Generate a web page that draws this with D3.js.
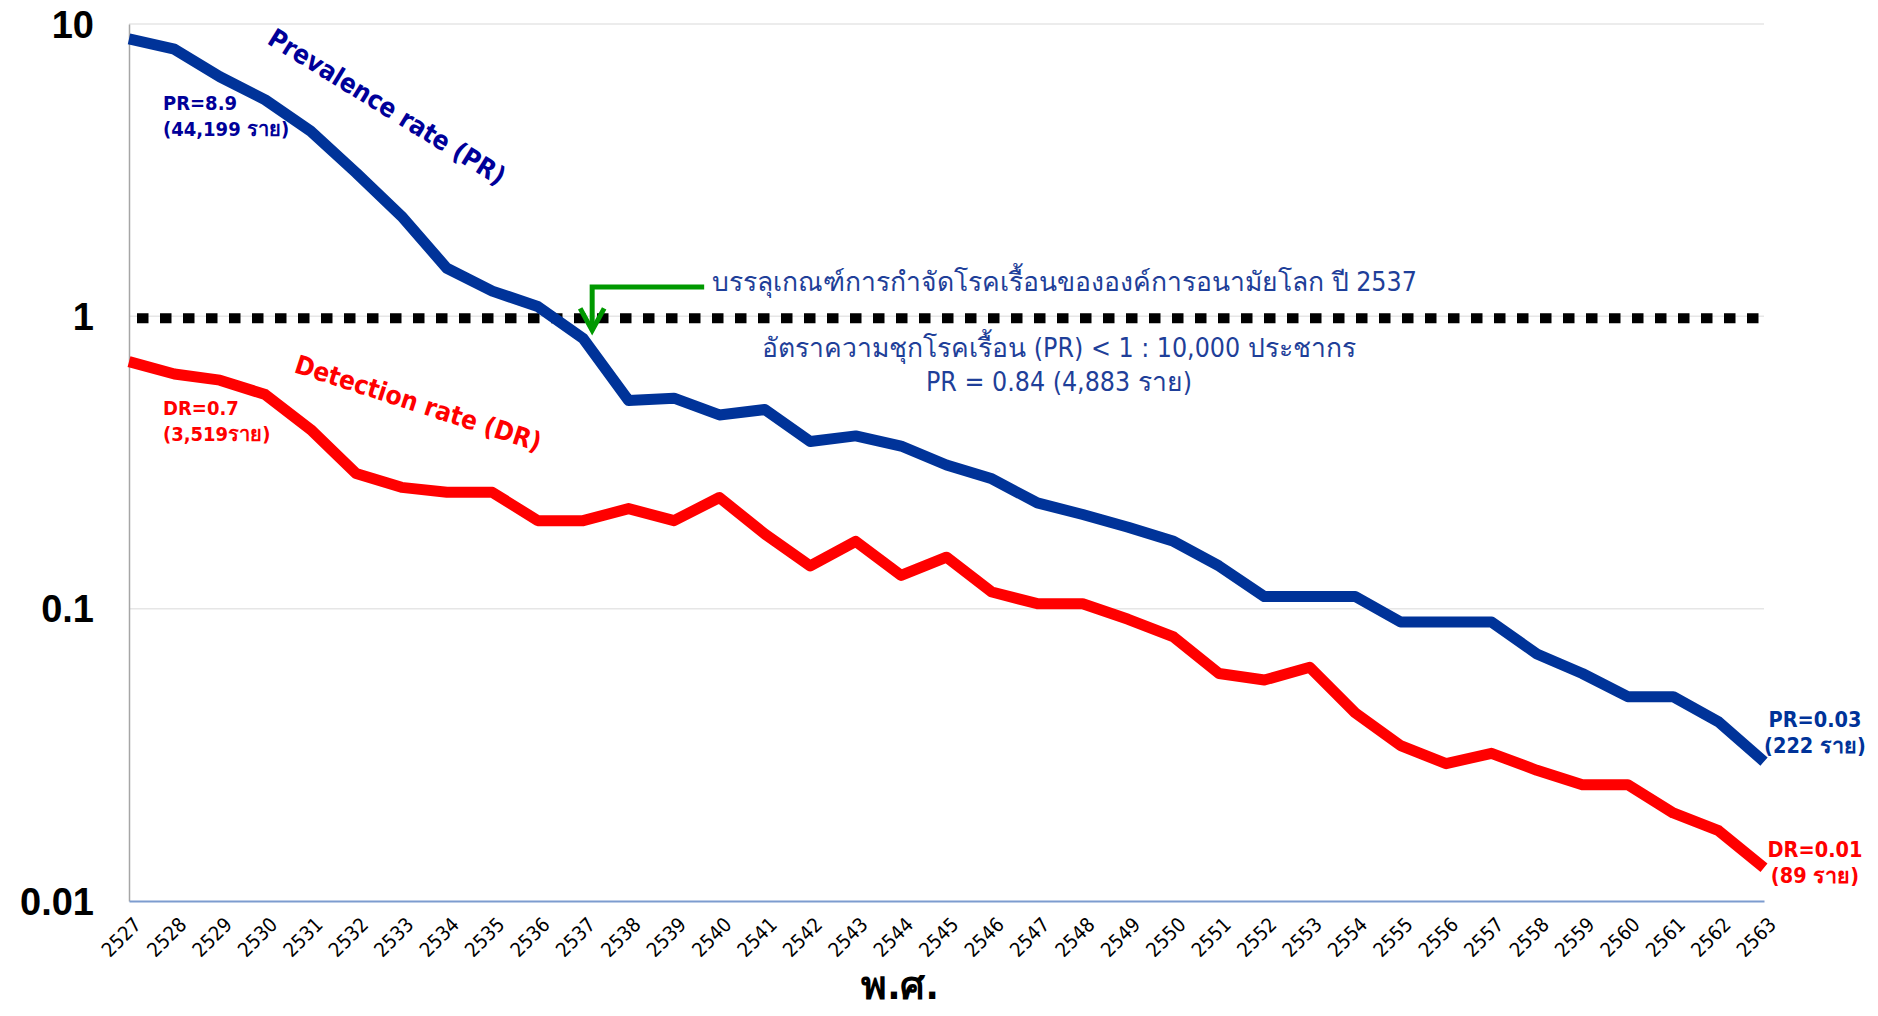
<!DOCTYPE html>
<html>
<head>
<meta charset="utf-8">
<script src="https://cdn.jsdelivr.net/npm/d3@7"></script>
<style>
  body { margin: 0; background: #fff; }
  .tick-label { font-family: "DejaVu Sans Condensed", "DejaVu Sans", sans-serif; font-size: 20px; fill: #000; }
  .y-label { font-family: "Liberation Sans", Arial, sans-serif; font-size: 38px; font-weight: bold; fill: #000; }
</style>
</head>
<body>
<div id="chart"></div>
<script>

// DATA
var years = ["2527", "2528", "2529", "2530", "2531", "2532", "2533", "2534", "2535", "2536",
    "2537", "2538", "2539", "2540", "2541", "2542", "2543", "2544", "2545", "2546",
    "2547", "2548", "2549", "2550", "2551", "2552", "2553", "2554", "2555", "2556",
    "2557", "2558", "2559", "2560", "2561", "2562", "2563"];

var prValues = [8.9, 8.2, 6.6, 5.5, 4.3, 3.1, 2.2, 1.46, 1.22, 1.08,
    0.84, 0.515, 0.525, 0.46, 0.48, 0.373, 0.39, 0.36, 0.31, 0.278,
    0.23, 0.21, 0.19, 0.17, 0.14, 0.11, 0.11, 0.11, 0.09, 0.09,
    0.09, 0.07, 0.06, 0.05, 0.05, 0.041, 0.03];

var drValues = [0.7, 0.635, 0.605, 0.54, 0.41, 0.29, 0.26, 0.25, 0.25, 0.2,
    0.2, 0.22, 0.2, 0.24, 0.18, 0.14, 0.17, 0.13, 0.15, 0.114,
    0.104, 0.104, 0.092, 0.08, 0.06, 0.057, 0.063, 0.044, 0.034, 0.0295,
    0.032, 0.028, 0.025, 0.025, 0.02, 0.0174, 0.013];

var yTicks = [10, 1, 0.1, 0.01];
var yTickLabels = ["10", "1", "0.1", "0.01"];
var target = 1;   // WHO elimination threshold (PR < 1 : 10,000)

/*
SVG CANVAS
*/
var width = 1878;
var height = 1016;
var margin = { top: 24, left: 129, right: 114, bottom: 115 };

var svg = d3.select("#chart")
    .append("svg")
    .attr("width", width)
    .attr("height", height);

var prData = years.map(function(y, i) { return { year: y, value: prValues[i] }; });
var drData = years.map(function(y, i) { return { year: y, value: drValues[i] }; });

/*
SCALES
*/
var xScale = d3.scalePoint()
    .domain(years)
    .range([margin.left, width - margin.right]);

var yScale = d3.scaleLog()
    .domain([0.01, 10])
    .range([height - margin.bottom, margin.top]);

// gridlines
svg.append("g")
    .selectAll("line")
    .data(yTicks.slice(0, 3))
    .enter()
    .append("line")
    .attr("x1", margin.left)
    .attr("x2", width - margin.right)
    .attr("y1", function(d) { return yScale(d); })
    .attr("y2", function(d) { return yScale(d); })
    .attr("stroke", "#e6e6e6")
    .attr("stroke-width", 1.5);

// y axis
var yAxis = svg.append("g")
    .attr("transform", `translate(${margin.left},0)`)
    .call(d3.axisLeft(yScale).tickValues(yTicks).tickSize(0).tickFormat(function(d, i) { return yTickLabels[i]; }));
yAxis.select(".domain").attr("stroke", "#a6a6a6").attr("stroke-width", 1.5);
yAxis.selectAll("text")
    .attr("class", "y-label")
    .attr("x", -35)
    .attr("dy", "0.35em");

// x axis
var xAxis = svg.append("g")
    .attr("transform", `translate(0,${height - margin.bottom})`)
    .call(d3.axisBottom(xScale).tickSize(0));
xAxis.select(".domain").attr("stroke", "#7d9ccf").attr("stroke-width", 2);
xAxis.selectAll("text")
    .attr("class", "tick-label")
    .attr("text-anchor", "end")
    .attr("transform", "translate(3,15) rotate(-45)")
    .attr("x", 0)
    .attr("y", 0)
    .attr("dy", "0.7em");

svg.append("text")
    .attr("x", 900)
    .attr("y", 999)
    .attr("text-anchor", "middle")
    .attr("font-family", "'DejaVu Sans Condensed', 'DejaVu Sans', sans-serif")
    .attr("font-size", 39)
    .attr("font-weight", "bold")
    .text("พ.ศ.");

// dotted threshold line
svg.append("line")
    .attr("x1", margin.left + 8)
    .attr("x2", width - margin.right)
    .attr("y1", yScale(target) + 2)
    .attr("y2", yScale(target) + 2)
    .attr("stroke", "#000")
    .attr("stroke-width", 10)
    .attr("stroke-dasharray", "11.5,11.5");

/*
LINES
*/
var line = d3.line()
    .x(function(d) { return xScale(d.year); })
    .y(function(d) { return yScale(d.value); })
    .curve(d3.curveLinear);

svg.append("path")
    .datum(drData)
    .attr("d", line)
    .attr("stroke", "#ff0000")
    .attr("fill", "none")
    .attr("stroke-width", 11)
    .attr("stroke-linejoin", "round");

svg.append("path")
    .datum(prData)
    .attr("d", line)
    .attr("stroke", "#003399")
    .attr("fill", "none")
    .attr("stroke-width", 11)
    .attr("stroke-linejoin", "round");

/*
ANNOTATIONS
*/
var labelFont = "'DejaVu Sans Condensed', 'DejaVu Sans', sans-serif";

svg.append("text")
    .attr("transform", "translate(266,43) rotate(31.6)")
    .attr("font-family", labelFont)
    .attr("font-size", 26)
    .attr("font-weight", "bold")
    .attr("fill", "#000099")
    .text("Prevalence rate (PR)");

svg.append("text")
    .attr("transform", "translate(293,372) rotate(18)")
    .attr("font-family", labelFont)
    .attr("font-size", 26)
    .attr("font-weight", "bold")
    .attr("fill", "#ff0000")
    .text("Detection rate (DR)");

function twoLines(x, y, anchor, color, size, l1, l2) {
    var t = svg.append("text")
        .attr("font-family", labelFont)
        .attr("font-size", size)
        .attr("font-weight", "bold")
        .attr("fill", color)
        .attr("text-anchor", anchor);
    t.append("tspan").attr("x", x).attr("y", y).text(l1);
    t.append("tspan").attr("x", x).attr("y", y + 26).text(l2);
}

twoLines(163, 110, "start", "#000099", 20, "PR=8.9", "(44,199 ราย)");
twoLines(163, 415, "start", "#ff0000", 20, "DR=0.7", "(3,519ราย)");
twoLines(1815, 727, "middle", "#003399", 21.5, "PR=0.03", "(222 ราย)");
twoLines(1815, 857, "middle", "#ff0000", 21.5, "DR=0.01", "(89 ราย)");

// green arrow pointing to 2537
var ax = xScale("2537") + 9;
var ay = yScale(target);
svg.append("path")
    .attr("d", `M${ax + 112},287 H${ax} V${ay + 14}`)
    .attr("fill", "none")
    .attr("stroke", "#009900")
    .attr("stroke-width", 5);
svg.append("path")
    .attr("d", `M${ax - 12},${ay - 8} L${ax},${ay + 14} L${ax + 12},${ay - 8}`)
    .attr("fill", "none")
    .attr("stroke", "#009900")
    .attr("stroke-width", 5);

var noteFont = "'DejaVu Sans Condensed', 'Noto Sans', sans-serif";
svg.append("text")
    .attr("x", 712)
    .attr("y", 291)
    .attr("font-family", noteFont)
    .attr("font-size", 26.5)
    .attr("fill", "#1f3f99")
    .text("บรรลุเกณฑ์การกำจัดโรคเรื้อนขององค์การอนามัยโลก ปี 2537");

svg.append("text")
    .attr("x", 1059)
    .attr("y", 357)
    .attr("text-anchor", "middle")
    .attr("font-family", noteFont)
    .attr("font-size", 26.5)
    .attr("fill", "#1f3f99")
    .text("อัตราความชุกโรคเรื้อน (PR) < 1 : 10,000 ประชากร");

svg.append("text")
    .attr("x", 1059)
    .attr("y", 391)
    .attr("text-anchor", "middle")
    .attr("font-family", noteFont)
    .attr("font-size", 26.5)
    .attr("fill", "#1f3f99")
    .text("PR = 0.84 (4,883 ราย)");

</script>
</body>
</html>
